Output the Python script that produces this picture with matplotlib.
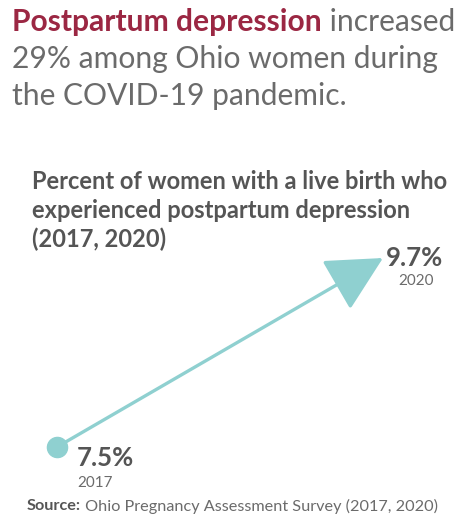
import matplotlib
matplotlib.use("Agg")
import matplotlib.pyplot as plt
from matplotlib.patches import FancyArrowPatch

years = [2017, 2020]
values = [7.5, 9.7]
value_labels = ["7.5%", "9.7%"]
year_labels = ["2017", "2020"]

plt.rcParams['font.family'] = ['Lato', 'DejaVu Sans']

RED = "#9b2743"
GRAY = "#6b6b6b"
DARK = "#555555"
TEAL = "#8fd0d0"

W, H = 464, 518
fig = plt.figure(figsize=(W / 100, H / 100), dpi=100)


def put_runs(x, y, runs, size):
    # draw consecutive text pieces on one line, each starting where the last ended
    fig.canvas.draw()
    r = fig.canvas.get_renderer()
    for s, color, weight in runs:
        t = fig.text(x / W, 1 - y / H, s, color=color, fontsize=size,
                     fontweight=weight, va="center", ha="left")
        bb = t.get_window_extent(renderer=r)
        x += bb.width


put_runs(12, 22, [("Postpartum depression", RED, "bold"), (" increased", GRAY, "normal")], 21.6)
fig.text(12 / W, 1 - 59 / H, "29% among Ohio women during", color=GRAY, fontsize=21.6, va="center")
fig.text(12 / W, 1 - 96 / H, "the COVID-19 pandemic.", color=GRAY, fontsize=21.6, va="center")

for i, line in enumerate(["Percent of women with a live birth who",
                          "experienced postpartum depression",
                          "(2017, 2020)"]):
    fig.text(32 / W, 1 - (181 + 29 * i) / H, line, color=DARK, fontsize=17,
             fontweight="bold", va="center")

put_runs(27, 506, [("Source:", DARK, "bold"), (" Ohio Pregnancy Assessment Survey (2017, 2020)", GRAY, "normal")], 11.7)

# axes placed so the data points land where the reference has them
x0, y0, x1, y1 = 57, 447, 383, 258
ax = fig.add_axes([x0 / W, 1 - y0 / H, (x1 - x0) / W, (y0 - y1) / H])
ax.set_xlim(years[0], years[1])
ax.set_ylim(values[0], values[1])
ax.axis("off")

arrow = FancyArrowPatch((years[0], values[0]), (years[1], values[1]),
                        arrowstyle="-|>,head_length=1.75,head_width=0.9",
                        mutation_scale=20, color=TEAL, lw=2.4,
                        shrinkA=0, shrinkB=0, clip_on=False)
ax.add_patch(arrow)
ax.plot(years[0], values[0], "o", color=TEAL, ms=14.5, clip_on=False)

ax.annotate(value_labels[0], (years[0], values[0]), xytext=(14.5, -13.7), textcoords="offset points",
            fontsize=18.5, fontweight="bold", color=DARK, va="baseline", ha="left")
ax.annotate(year_labels[0], (years[0], values[0]), xytext=(14.5, -28.5), textcoords="offset points",
            fontsize=11, color=GRAY, va="baseline", ha="left")
ax.annotate(value_labels[1], (years[1], values[1]), xytext=(22.5, -5.8), textcoords="offset points",
            fontsize=18.5, fontweight="bold", color=DARK, va="baseline", ha="center")
ax.annotate(year_labels[1], (years[1], values[1]), xytext=(23.5, -19.5), textcoords="offset points",
            fontsize=11, color=GRAY, va="baseline", ha="center")

fig.savefig("out.png", dpi=100)
